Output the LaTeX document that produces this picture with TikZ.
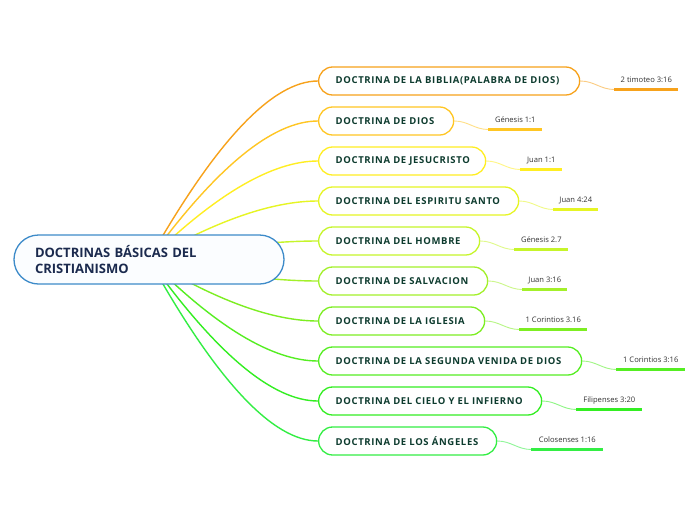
\documentclass[tikz,border=0pt]{standalone}
\usepackage{fontspec}
\setmainfont{Open Sans}
\newfontfamily\branchfont[LetterSpace=7]{Open Sans}
\usetikzlibrary{calc,backgrounds}
\definecolor{c1}{HTML}{F7A21B}
\definecolor{c2}{HTML}{FFC623}
\definecolor{c3}{HTML}{FFEE22}
\definecolor{c4}{HTML}{E6F524}
\definecolor{c5}{HTML}{C6F52A}
\definecolor{c6}{HTML}{A3F02A}
\definecolor{c7}{HTML}{7DEE22}
\definecolor{c8}{HTML}{55EE22}
\definecolor{c9}{HTML}{33EE22}
\definecolor{c10}{HTML}{33EE44}
\definecolor{rootblue}{HTML}{3D8BC9}
\definecolor{rootfill}{HTML}{FBFDFF}
\definecolor{rootink}{HTML}{1B2A4E}
\definecolor{branchink}{HTML}{0D3B2E}
\definecolor{leafink}{HTML}{333333}
\tikzset{
    root/.style={draw=rootblue, fill=rootfill, rounded corners=24.5pt, minimum height=49pt,
        inner xsep=21pt, text width=228pt, align=left, text=rootink,
        font=\fontsize{13}{16.3}\selectfont\bfseries},
    branch/.style={draw=#1, fill=white, rounded corners=14pt, minimum height=28pt,
        inner xsep=17pt, inner ysep=0pt, anchor=west, text=branchink,
        font=\branchfont\fontsize{9.5}{11}\selectfont\bfseries},
    link/.style={draw=#1, line width=1.4pt},
    sublink/.style={draw=#1!55!white, line width=0.9pt},
    underline/.style={draw=#1, line width=2.4pt},
    leaf/.style={font=\fontsize{7.6}{9}\selectfont, text=leafink, inner sep=0pt, anchor=base},
}
\begin{document}
\begin{tikzpicture}[x=1pt,y=-1pt,line width=1.3pt]
	\useasboundingbox (0,0) rectangle (696,520);
	\node[root] (root) at (149,259.5) {DOCTRINAS BÁSICAS DEL\\CRISTIANISMO};
	\foreach \i/\y/\w/\len/\txt/\verse in {
		1/81/261/64/{DOCTRINA DE LA BIBLIA(PALABRA DE DIOS)}/{2 timoteo 3:16},
		2/121/135/54/{DOCTRINA DE DIOS}/{Génesis 1:1},
		3/161/167/42/{DOCTRINA DE JESUCRISTO}/{Juan 1:1},
		4/201/200/45/{DOCTRINA DEL ESPIRITU SANTO}/{Juan 4:24},
		5/241/161/54/{DOCTRINA DEL HOMBRE}/{Génesis 2.7},
		6/281/169/45/{DOCTRINA DE SALVACION}/{Juan 3:16},
		7/321/166/68/{DOCTRINA DE LA IGLESIA}/{1 Corintios 3.16},
		8/361/263/69/{DOCTRINA DE LA SEGUNDA VENIDA DE DIOS}/{1 Corintios 3:16},
		9/401/223/66/{DOCTRINA DEL CIELO Y EL INFIERNO}/{Filipenses 3:20},
		10/441/178/72/{DOCTRINA DE LOS ÁNGELES}/{Colosenses 1:16}}
	{
		\node[branch=c\i] (b\i) at (318,\y) {\makebox[\dimexpr\w pt-34pt\relax][l]{\txt}};
		\coordinate (ua\i) at ($(b\i.east)+(34,8.5)$);
		\coordinate (ub\i) at ($(ua\i)+(\len,0)$);
		\node[leaf] (l\i) at ($(ua\i)!.5!(ub\i)+(0,-6.8)$) {\verse};
	}
	\begin{scope}[on background layer]
		\fill[white] (0,0) rectangle (696,520);
		\foreach \i in {1,...,10}{
			\coordinate (k\i) at ($(b\i.west)+(-68,0)$);
			\draw[link=c\i] (root.center) .. controls ($(root.center)!2/3!(k\i)$) and ($(b\i.west)!2/3!(k\i)$) .. (b\i.west);
			\draw[sublink=c\i] (b\i.east) to[out=0,in=180] (ua\i);
			\draw[underline=c\i] (ua\i) -- (ub\i);
		}
	\end{scope}
\end{tikzpicture}
\end{document}
